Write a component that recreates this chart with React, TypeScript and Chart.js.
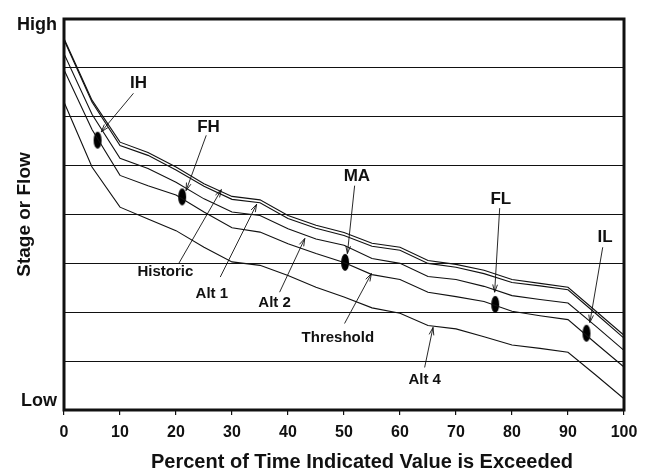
import React, { useEffect, useRef } from 'react';
import { Chart, registerables } from 'chart.js';

Chart.register(...registerables);

// ---- data (percent of time exceeded vs. relative stage / flow, 0 = Low, 8 = High)
const percent = [0, 5, 10, 15, 20, 25, 30, 35, 40, 45, 50, 55, 60, 65, 70, 75, 80, 85, 90, 95, 100];
const historic = [7.6, 6.34, 5.48, 5.27, 4.97, 4.63, 4.37, 4.3, 3.98, 3.78, 3.63, 3.41, 3.33, 3.06, 2.98, 2.86, 2.67, 2.59, 2.51, 2.02, 1.53];
const alt1 = [7.57, 6.3, 5.41, 5.21, 4.91, 4.58, 4.31, 4.24, 3.92, 3.72, 3.57, 3.35, 3.27, 3.0, 2.92, 2.79, 2.61, 2.54, 2.46, 1.97, 1.47];
const alt2 = [7.29, 6.05, 5.15, 4.94, 4.66, 4.32, 4.05, 3.98, 3.71, 3.5, 3.37, 3.1, 3.0, 2.73, 2.67, 2.53, 2.34, 2.26, 2.19, 1.71, 1.22];
const threshold = [6.96, 5.74, 4.8, 4.59, 4.4, 4.05, 3.73, 3.64, 3.4, 3.2, 3.02, 2.77, 2.67, 2.41, 2.32, 2.22, 2.02, 1.93, 1.85, 1.36, 0.88];
const alt4 = [6.3, 4.97, 4.15, 3.91, 3.67, 3.33, 3.03, 2.96, 2.75, 2.51, 2.31, 2.09, 1.98, 1.73, 1.66, 1.5, 1.33, 1.26, 1.18, 0.71, 0.23];

const seriesNames = ['Historic', 'Alt 1', 'Alt 2', 'Threshold', 'Alt 4'];
const seriesValues = [historic, alt1, alt2, threshold, alt4];

// marked flow levels on the Threshold curve
const markerNames = ['IH', 'FH', 'MA', 'FL', 'IL'];
const markerPercent = [6.0, 21.1, 50.2, 77.0, 93.3];
const markerValue = [5.52, 4.36, 3.02, 2.16, 1.57];

// y tick labels
const yTickValues = [0.19, 1, 2, 3, 4, 5, 6, 7, 7.87];
const yTickText: Record<string, string> = { '0.19': 'Low', '7.87': 'High' };
const xTitle = 'Percent of Time Indicated Value is Exceeded';
const yTitle = 'Stage or Flow';

// callouts (label centre, arrow tail, arrow tip) in data units
const callouts = [
  { text: 'IH', big: true, label: [13.3, 6.68], tail: [12.4, 6.48], tip: [6.65, 5.69] },
  { text: 'FH', big: true, label: [25.8, 5.78], tail: [25.4, 5.62], tip: [21.8, 4.49] },
  { text: 'MA', big: true, label: [52.3, 4.78], tail: [51.9, 4.59], tip: [50.6, 3.2] },
  { text: 'FL', big: true, label: [78.0, 4.31], tail: [77.8, 4.13], tip: [76.9, 2.41] },
  { text: 'IL', big: true, label: [96.6, 3.53], tail: [96.2, 3.33], tip: [93.9, 1.79] },
  { text: 'Historic', big: false, label: [18.1, 2.83], tail: [20.5, 3.0], tip: [28.1, 4.51] },
  { text: 'Alt 1', big: false, label: [26.4, 2.38], tail: [27.9, 2.72], tip: [34.4, 4.21] },
  { text: 'Alt 2', big: false, label: [37.6, 2.2], tail: [38.5, 2.41], tip: [43.0, 3.51] },
  { text: 'Threshold', big: false, label: [48.9, 1.48], tail: [50.1, 1.77], tip: [54.9, 2.79] },
  { text: 'Alt 4', big: false, label: [64.4, 0.62], tail: [64.4, 0.87], tip: [65.9, 1.69] },
];

const FONT = "'Liberation Sans', Arial, Helvetica, sans-serif";
const INK = '#111';

function makeDot(): HTMLCanvasElement {
  const c = document.createElement('canvas');
  c.width = 10;
  c.height = 19;
  const g = c.getContext('2d')!;
  g.fillStyle = '#000';
  g.beginPath();
  g.ellipse(5, 9.5, 4, 8.5, 0, 0, Math.PI * 2);
  g.fill();
  return c;
}

const framePlugin = {
  id: 'frameAndCallouts',
  afterDatasetsDraw(chart: any) {
    const { ctx, chartArea: a, scales } = chart;
    const xs = scales.x;
    const ys = scales.y;
    ctx.save();
    ctx.strokeStyle = INK;
    ctx.fillStyle = INK;
    ctx.lineWidth = 0.9;
    ctx.textAlign = 'center';
    ctx.textBaseline = 'middle';
    for (const c of callouts) {
      const lx = xs.getPixelForValue(c.label[0]);
      const ly = ys.getPixelForValue(c.label[1]);
      const tx = xs.getPixelForValue(c.tail[0]);
      const ty = ys.getPixelForValue(c.tail[1]);
      const px = xs.getPixelForValue(c.tip[0]);
      const py = ys.getPixelForValue(c.tip[1]);
      ctx.beginPath();
      ctx.moveTo(tx, ty);
      ctx.lineTo(px, py);
      const ang = Math.atan2(py - ty, px - tx);
      const len = 8;
      const spread = 0.3;
      ctx.moveTo(px - len * Math.cos(ang - spread), py - len * Math.sin(ang - spread));
      ctx.lineTo(px, py);
      ctx.lineTo(px - len * Math.cos(ang + spread), py - len * Math.sin(ang + spread));
      ctx.stroke();
      ctx.font = `bold ${c.big ? 17 : 15}px ${FONT}`;
      ctx.fillText(c.text, lx, ly);
    }
    ctx.lineWidth = 3;
    ctx.strokeStyle = '#111';
    ctx.strokeRect(a.left, a.top, a.right - a.left, a.bottom - a.top);

    // x axis title, centred slightly right of the plot centre as in the original
    ctx.font = `bold 20px ${FONT}`;
    ctx.textAlign = 'center';
    ctx.textBaseline = 'alphabetic';
    ctx.fillText(xTitle, (a.left + a.right) / 2 + 18, 468);
    ctx.restore();
  },
};

export default function App() {
  const ref = useRef<HTMLCanvasElement | null>(null);

  useEffect(() => {
    const canvas = ref.current;
    if (!canvas) return;
    const dot = makeDot();
    const datasets: any[] = seriesNames.map((name, i) => ({
      label: name,
      data: percent.map((p, j) => ({ x: p, y: seriesValues[i][j] })),
      borderColor: '#111',
      borderWidth: 1.1,
      pointRadius: 0,
      fill: false,
      tension: 0,
    }));
    datasets.push({
      label: 'Levels',
      data: markerPercent.map((p, j) => ({ x: p, y: markerValue[j], name: markerNames[j] })),
      showLine: false,
      pointStyle: dot,
      pointRadius: 5,
      borderWidth: 0,
    });

    const chart = new Chart(canvas, {
      type: 'line',
      data: { datasets },
      options: {
        animation: false,
        responsive: false,
        devicePixelRatio: 1,
        layout: { padding: { top: 19, right: 26, left: 0, bottom: 0 } },
        plugins: { legend: { display: false }, tooltip: { enabled: false } },
        scales: {
          x: {
            type: 'linear',
            min: 0,
            max: 100,
            afterFit: (s: any) => {
              s.height = 58;
            },
            border: { display: false },
            grid: { drawOnChartArea: false, drawTicks: true, tickLength: 5, color: '#111', lineWidth: 1.2 },
            ticks: { stepSize: 10, color: INK, padding: 8, font: { family: FONT, size: 16, weight: 'bold' } },
            title: { display: false, text: xTitle },
          },
          y: {
            type: 'linear',
            min: 0,
            max: 8,
            afterFit: (s: any) => {
              s.width = 64;
            },
            afterBuildTicks: (s: any) => {
              s.ticks = yTickValues.map((v) => ({ value: v }));
            },
            border: { display: false },
            grid: {
              drawTicks: false,
              lineWidth: 1,
              color: (c: any) => {
                const v = c.tick ? c.tick.value : -1;
                return Number.isInteger(v) && v > 0 && v < 8 ? '#111' : 'rgba(0,0,0,0)';
              },
            },
            ticks: {
              autoSkip: false,
              padding: 7,
              color: INK,
              font: { family: FONT, size: 18, weight: 'bold' },
              callback: (v: any) => yTickText[String(v)] ?? '',
            },
            title: {
              display: true,
              text: yTitle,
              color: INK,
              font: { family: FONT, size: 19, weight: 'bold' },
              padding: { top: 13, bottom: 0 },
            },
          },
        },
      },
      plugins: [framePlugin],
    });
    return () => chart.destroy();
  }, []);

  return (
    <div style={{ position: 'absolute', left: 0, top: 0, width: 650, height: 468, background: '#fff' }}>
      <canvas ref={ref} width={650} height={468} style={{ display: 'block', width: 650, height: 468 }} />
    </div>
  );
}
